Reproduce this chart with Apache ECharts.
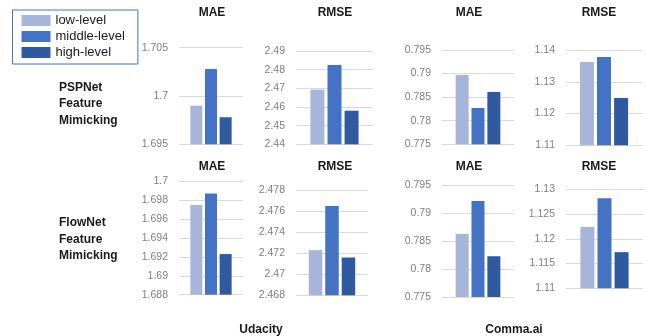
<!DOCTYPE html>
<html>
<head>
<meta charset="utf-8">
<script src="https://cdn.jsdelivr.net/npm/echarts@6/dist/echarts.min.js"></script>
<style>
  html, body { margin: 0; padding: 0; background: #fff; }
  #chart { width: 646px; height: 336px; }
</style>
</head>
<body>
<div id="chart"></div>
<script>
// Depth-estimation error for three feature-mimicking levels, per dataset and metric.
const datasets = ['Udacity', 'Comma.ai'];
const metrics = ['MAE', 'RMSE'];
const methods = ['PSPNet\nFeature\nMimicking', 'FlowNet\nFeature\nMimicking'];
const levels = ['low-level', 'middle-level', 'high-level'];

// Panel order per row: Udacity MAE, Udacity RMSE, Comma.ai MAE, Comma.ai RMSE
const lowLevel    = [1.6990, 2.4693, 0.7897, 1.1362, 1.6975, 2.4723, 0.7863, 1.1224];
const middleLevel = [1.7028, 2.4825, 0.7827, 1.1378, 1.6987, 2.4765, 0.7922, 1.1282];
const highLevel   = [1.6978, 2.4580, 0.7861, 1.1249, 1.6923, 2.4716, 0.7823, 1.1173];

// Value-axis ranges and tick steps for each panel
const yMin  = [1.695, 2.44, 0.775, 1.11, 1.688, 2.468, 0.775, 1.11];
const yMax  = [1.705, 2.49, 0.795, 1.14, 1.700, 2.478, 0.795, 1.13];
const yStep = [0.005, 0.01, 0.005, 0.01, 0.002, 0.002, 0.005, 0.005];

// Plot-area boxes [left, top, width, height] and bar widths
const boxes = [
  [179, 47.7, 64, 96.6], [296, 51, 77, 93.3], [442, 50, 72, 94.3], [566, 50, 76, 95.3],
  [179, 181.3, 64, 113.4], [296, 190.3, 72, 105], [442, 185.3, 72, 111.7], [566, 189.3, 77, 99]
];
const barWidths = [12, 14, 13, 14, 12, 13.5, 13, 14];
const titleX = [212, 335, 469, 599];
const titleY = [13, 166.7];

const colors = ['#A7B5DB', '#4472C4', '#305A9F'];
const seriesValues = [lowLevel, middleLevel, highLevel];

const grid = [], xAxis = [], yAxis = [], series = [];
boxes.forEach((b, i) => {
  grid.push({ left: b[0], top: b[1], width: b[2], height: b[3], containLabel: false });
  xAxis.push({
    gridIndex: i, type: 'category', data: [metrics[i % 2]], show: false
  });
  yAxis.push({
    gridIndex: i, type: 'value', min: yMin[i], max: yMax[i], interval: yStep[i],
    axisLine: { show: false }, axisTick: { show: false },
    splitLine: { lineStyle: { color: '#D9D9D9', width: 1 } },
    axisLabel: {
      color: '#7F7F7F', fontSize: 10.5, fontFamily: 'Liberation Sans, Arial, sans-serif', margin: 11,
      formatter: v => String(+(+v).toFixed(4))
    }
  });
  levels.forEach((name, k) => {
    series.push({
      name, type: 'bar', xAxisIndex: i, yAxisIndex: i,
      data: [seriesValues[k][i]],
      barWidth: barWidths[i], barGap: '22%',
      itemStyle: { color: colors[k] },
      silent: true, animation: false
    });
  });
});

const textStyleBold = { fontFamily: 'Liberation Sans, Arial, sans-serif', fontWeight: 'bold', fill: '#1a1a1a' };
const graphic = [];
titleY.forEach(y => {
  titleX.forEach((x, c) => {
    graphic.push({
      type: 'text', x, y,
      style: Object.assign({ text: metrics[c % 2], fontSize: 12, align: 'center', verticalAlign: 'middle' }, textStyleBold)
    });
  });
});
[[59, 79], [59, 214.5]].forEach((p, r) => {
  graphic.push({
    type: 'text', x: p[0], y: p[1],
    style: Object.assign({ text: methods[r], fontSize: 12, lineHeight: 16.5, align: 'left', verticalAlign: 'top' }, textStyleBold)
  });
});
[[261, 330], [514, 330]].forEach((p, d) => {
  graphic.push({
    type: 'text', x: p[0], y: p[1],
    style: Object.assign({ text: datasets[d], fontSize: 12, align: 'center', verticalAlign: 'middle' }, textStyleBold)
  });
});

const chart = echarts.init(document.getElementById('chart'), null, { renderer: 'canvas' });
chart.setOption({
  animation: false,
  color: colors,
  legend: {
    data: levels, orient: 'vertical', left: 12.5, top: 10,
    itemWidth: 29, itemHeight: 11, itemGap: 3,
    padding: [4, 13, 5, 9],
    borderColor: '#4472C4', borderWidth: 1,
    icon: 'rect',
    textStyle: { fontSize: 13, color: '#1a1a1a', fontFamily: 'Liberation Sans, Arial, sans-serif' }
  },
  grid, xAxis, yAxis, series, graphic
});
</script>
</body>
</html>
